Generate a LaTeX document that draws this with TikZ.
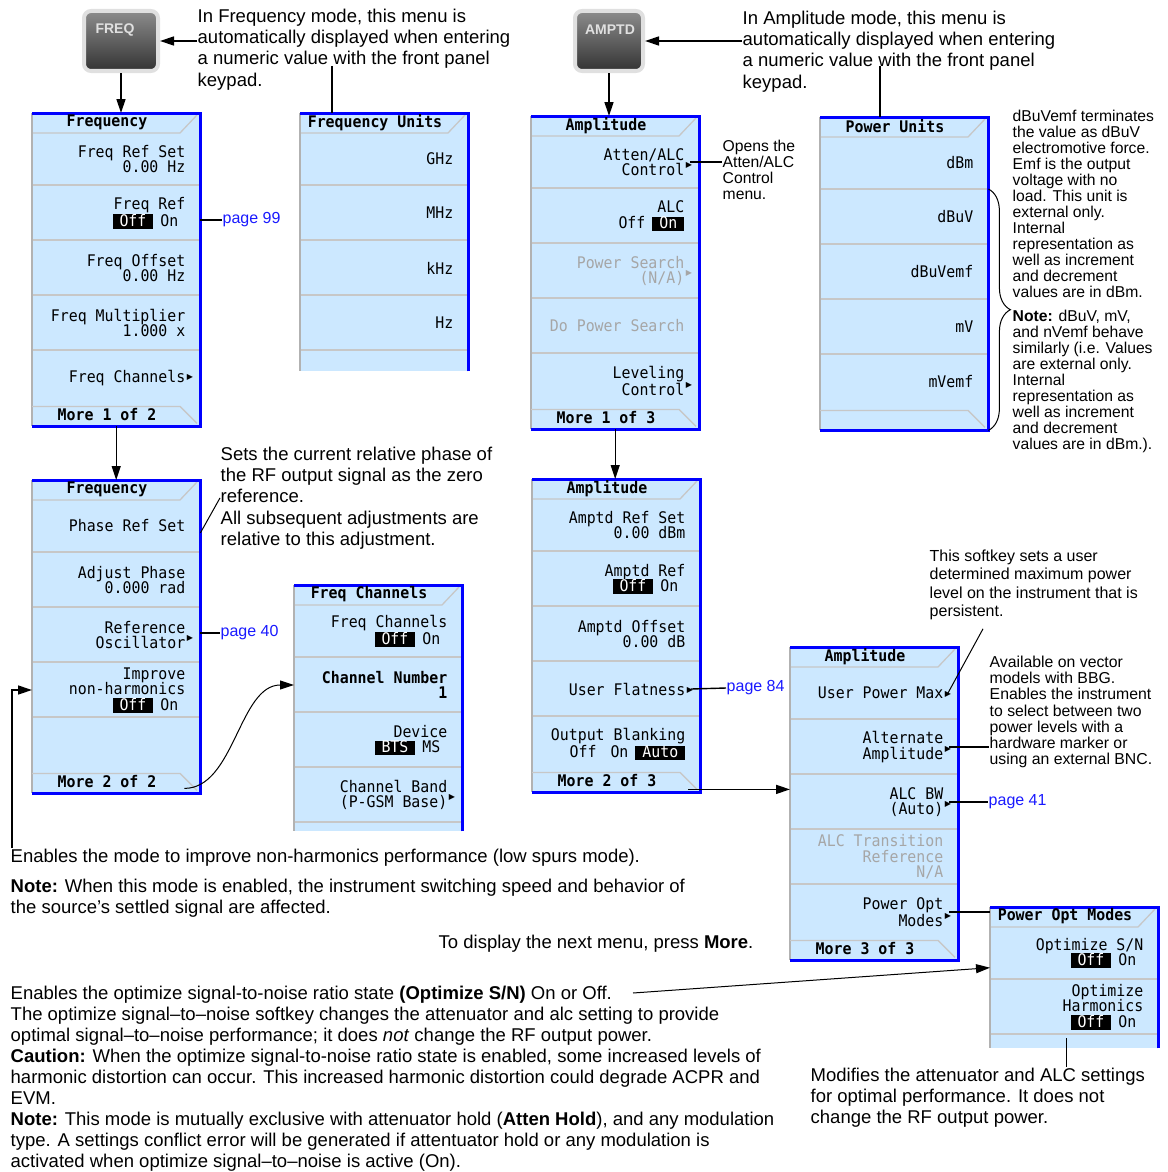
\documentclass[tikz,border=0pt]{standalone}
\usepackage{fontspec}
\setmainfont{Liberation Sans}
\newfontfamily\keyfont[FakeStretch=0.93]{DejaVu Sans Mono}
\newfontfamily\trifont{DejaVu Sans}
\usetikzlibrary{arrows.meta,decorations.pathreplacing}

\definecolor{panelblue}{RGB}{204,232,255}
\definecolor{edgeblue}{RGB}{0,0,255}
\definecolor{linkblue}{RGB}{25,25,255}

% softkey helpers
\newcommand{\selbox}[1]{{\setlength{\fboxsep}{0pt}\colorbox{black}{\rule[-2.5pt]{0pt}{12.5pt}\kern7pt\textcolor{white}{#1}\kern7pt}}}
\newcommand{\unsel}[1]{\kern7pt#1\kern7pt}
\newcommand{\submark}[1][2.5pt]{\rlap{\kern1.5pt\raisebox{#1}{\trifont\fontsize{8}{8}\selectfont ▶}}}

% one menu panel: name, left, top, height, last separator
\newcommand{\menupanel}[5]{%
  \node[panelbg, minimum height=#4, anchor=north west] (#1) at (#2,#3) {};
  \foreach \k in {0,...,#5} \draw[sepline] (#2,#3+72+55*\k) -- ++(167,0);
  \draw[sepline] (#2,#3+20) -- ++(148,0) -- ++(17,-18);
  \draw[greyedge] (#1.north west) -- (#1.south west);
  \draw[blueedge] (#1.south east) -- (#1.north east) -- (#1.north west);
}
\newcommand{\morebar}[1]{%
  \draw[sepline] ([yshift=20pt]#1.south west) -- ++(148,0) -- ++(17,17);
  \draw[blueedge] (#1.south west) -- (#1.south east) -- (#1.north east);
}

\begin{document}
\begin{tikzpicture}[x=1pt,y=-1pt,line width=1.4pt,
    panelbg/.style={fill=panelblue, minimum width=167, inner sep=0},
    sepline/.style={draw=black!22, line width=1.3pt},
    greyedge/.style={draw=black!30, line width=1.2pt},
    blueedge/.style={draw=edgeblue, line width=3pt},
    key/.style={font=\keyfont\fontsize{16}{15.5}\selectfont, align=right, anchor=east, inner sep=0, text=black},
    keyoff/.style={key, text=black!35},
    menutitle/.style={font=\keyfont\bfseries\fontsize{16}{15.5}\selectfont, inner sep=0},
    keybtn/.style={rounded corners=7pt, top color=black!45, bottom color=black!80, draw=black!12, line width=4pt},
    keylabel/.style={font=\bfseries\fontsize{14}{14}\selectfont, text=white!88!black, inner sep=0},
    note/.style={font=\fontsize{18.5}{21.3}\selectfont, align=left, anchor=north west, inner sep=0},
    smallnote/.style={font=\fontsize{15.7}{16}\selectfont, align=left, anchor=north west, inner sep=0},
    midnote/.style={font=\fontsize{16}{18.5}\selectfont, align=left, anchor=north west, inner sep=0},
    link/.style={font=\fontsize{16}{16}\selectfont, text=linkblue, anchor=west, inner sep=0},
    arr/.style={-{Triangle[length=14pt,width=9pt]}}]

\useasboundingbox (0,0) rectangle (1167,1172);

%====== front panel keys ======%
\node[keybtn, minimum width=74, minimum height=60] (freq) at (121,41) {};
\node[keylabel] (freqlbl) at (115,30) {FREQ};
\node[keybtn, minimum width=68, minimum height=60] (amptd) at (609,41) {};
\node[keylabel] (amptdlbl) at (610,30) {AMPTD};

\node[note] (freqtxt) at (197,8) {In Frequency mode, this menu is\\automatically displayed when entering\\a numeric value with the front panel\\keypad.};
\node[note] (amptxt) at (742,10) {In Amplitude mode, this menu is\\automatically displayed when entering\\a numeric value with the front panel\\keypad.};

%====== Frequency, page 1 ======%
\menupanel{fa}{32}{113}{312}{3}
\morebar{fa}
\node[menutitle] (fat) at (107,122.5) {Frequency};
\node[key] (fa1) at (186,159) {Freq Ref Set\\0.00 Hz};
\node[key] (fa2) at (186,213) {Freq Ref\\\selbox{Off}\unsel{On}};
\node[key] (fa3) at (186,268) {Freq Offset\\0.00 Hz};
\node[key] (fa4) at (186,323) {Freq Multiplier\\1.000 x};
\node[key] (fa5) at (186,378) {Freq Channels\submark};
\node[menutitle] (fam) at (107,415) {More 1 of 2};

%====== Frequency Units ======%
\menupanel{fu}{300}{113}{257}{3}
\node[menutitle] (fut) at (375,122.5) {Frequency Units};
\node[key] (fu1) at (454,159) {GHz};
\node[key] (fu2) at (454,213) {MHz};
\node[key] (fu3) at (454,268) {kHz};
\node[key] (fu4) at (454,323) {Hz};

%====== Amplitude, page 1 ======%
\menupanel{aa}{531}{116}{312}{3}
\morebar{aa}
\node[menutitle] (aat) at (606,125.5) {Amplitude};
\node[key] (aa1) at (685,162) {Atten/ALC\\Control\submark[8pt]};
\node[key] (aa2) at (685,216) {ALC\\\unsel{Off}\selbox{On}};
\node[keyoff] (aa3) at (685,271) {Power Search\\(N/A)\submark[8pt]};
\node[keyoff] (aa4) at (685,326) {Do Power Search};
\node[key] (aa5) at (685,381) {Leveling\\Control\submark[8pt]};
\node[menutitle] (aam) at (606,418) {More 1 of 3};

%====== Power Units ======%
\menupanel{pu}{820}{117}{312}{3}
\morebar{pu}
\node[menutitle] (put) at (895,126.5) {Power Units};
\node[key] (pu1) at (974,163) {dBm};
\node[key] (pu2) at (974,217) {dBuV};
\node[key] (pu3) at (974,272) {dBuVemf};
\node[key] (pu4) at (974,327) {mV};
\node[key] (pu5) at (974,382) {mVemf};

%====== Frequency, page 2 ======%
\menupanel{fb}{32}{480}{312}{3}
\morebar{fb}
\node[menutitle] (fbt) at (107,489.5) {Frequency};
\node[key] (fb1) at (186,526) {Phase Ref Set};
\node[key] (fb2) at (186,580) {Adjust Phase\\0.000 rad};
\node[key] (fb3) at (186,635) {Reference\\Oscillator\submark[8pt]};
\node[key] (fb4) at (186,690) {Improve\\non-harmonics\\\selbox{Off}\unsel{On}};
\node[menutitle] (fbm) at (107,782) {More 2 of 2};

%====== Freq Channels ======%
\menupanel{fc}{294}{585}{245}{3}
\node[menutitle] (fct) at (369,594.5) {Freq Channels};
\node[key] (fc1) at (448,631) {Freq Channels\\\selbox{Off}\unsel{On}};
\node[key, font=\keyfont\bfseries\fontsize{16}{15.5}\selectfont] (fc2) at (448,685) {Channel Number\\1};
\node[key] (fc3) at (448,740) {Device\\\selbox{BTS}\unsel{MS}};
\node[key] (fc4) at (448,795) {Channel Band\\(P-GSM Base)\submark[8pt]};

%====== Amplitude, page 2 ======%
\menupanel{ab}{532}{479}{312}{3}
\morebar{ab}
\node[menutitle] (abt) at (607,488.5) {Amplitude};
\node[key] (ab1) at (686,525) {Amptd Ref Set\\0.00 dBm};
\node[key] (ab2) at (686,579) {Amptd Ref\\\selbox{Off}\unsel{On}};
\node[key] (ab3) at (686,634) {Amptd Offset\\0.00 dB};
\node[key] (ab4) at (686,689) {User Flatness\submark};
\node[key] (ab5) at (686,744) {Output Blanking\\\unsel{Off}\unsel{On}\selbox{Auto}};
\node[menutitle] (abm) at (607,781) {More 2 of 3};

%====== Amplitude, page 3 ======%
\menupanel{ac}{790}{647}{312}{3}
\morebar{ac}
\node[menutitle] (act) at (865,656.5) {Amplitude};
\node[key] (ac1) at (944,693) {User Power Max\submark};
\node[key] (ac2) at (944,747) {Alternate\\Amplitude\submark[8pt]};
\node[key] (ac3) at (944,802) {ALC BW\\(Auto)\submark[8pt]};
\node[keyoff] (ac4) at (944,857) {ALC Transition\\Reference\\N/A};
\node[key] (ac5) at (944,912) {Power Opt\\Modes\submark[8pt]};
\node[menutitle] (acm) at (865,949) {More 3 of 3};

%====== Power Opt Modes ======%
\menupanel{po}{990}{907}{140}{1}
\node[menutitle] (pot) at (1065,916.5) {Power Opt Modes};
\node[key] (po1) at (1144,953) {Optimize S/N\\\selbox{Off}\unsel{On}};
\node[key] (po2) at (1144,1007) {Optimize\\Harmonics\\\selbox{Off}\unsel{On}};

%====== notes ======%
\node[smallnote] (opentxt) at (722,139) {Opens the\\Atten/ALC\\Control\\menu.};
\node[smallnote] (unitnote) at (1012,109) {dBuVemf terminates\\the value as dBuV\\electromotive force.\\Emf is the output\\voltage with no\\load. This unit is\\external only.\\Internal\\representation as\\well as increment\\and decrement\\values are in dBm.};
\node[smallnote] (unitnote2) at (1012,309) {\textbf{Note:} dBuV, mV,\\and nVemf behave\\similarly (i.e. Values\\are external only.\\Internal\\representation as\\well as increment\\and decrement\\values are in dBm.).};
\node[note] (phtxt) at (220,446) {Sets the current relative phase of\\the RF output signal as the zero\\reference.\\All subsequent adjustments are\\relative to this adjustment.};
\node[midnote] (upmtxt) at (929,549) {This softkey sets a user\\determined maximum power\\level on the instrument that is\\persistent.};
\node[smallnote, font=\fontsize{15.8}{16.3}\selectfont] (alttxt) at (989,655) {Available on vector\\models with BBG.\\Enables the instrument\\to select between two\\power levels with a\\hardware marker or\\using an external BNC.};
\node[link] (p99) at (222,220) {page 99};
\node[link] (p40) at (220,633) {page 40};
\node[link] (p84) at (726,688) {page 84};
\node[link] (p41) at (988,802) {page 41};
\node[note] (nhtxt) at (10,848) {Enables the mode to improve non-harmonics performance (low spurs mode).};
\node[note] (nhnote) at (10,878) {\textbf{Note:} When this mode is enabled, the instrument switching speed and behavior of\\the source’s settled signal are affected.};
\node[note, anchor=west] (moretxt) at (438,944) {To display the next menu, press \textbf{More}.};
\node[note, font=\fontsize{18.5}{21.1}\selectfont] (opttxt) at (10,985) {Enables the optimize signal-to-noise ratio state \textbf{(Optimize S/N)} On or Off.\\The optimize signal–to–noise softkey changes the attenuator and alc setting to provide\\optimal signal–to–noise performance; it does \textit{not} change the RF output power.\\\textbf{Caution:} When the optimize signal-to-noise ratio state is enabled, some increased levels of\\harmonic distortion can occur. This increased harmonic distortion could degrade ACPR and\\EVM.\\\textbf{Note:} This mode is mutually exclusive with attenuator hold (\textbf{Atten Hold}), and any modulation\\type. A settings conflict error will be generated if attentuator hold or any modulation is\\activated when optimize signal–to–noise is active (On).};
\node[note] (modtxt) at (810,1067) {Modifies the attenuator and ALC settings\\for optimal performance. It does not\\change the RF output power.};

%====== connectors ======%
\draw[arr] (freqtxt.west |- freq.east) -- (freq.east);
\draw[arr] (freq.south) -- (freq.south |- fa.north);
\coordinate (futop) at (332,66);
\draw (futop) -- (futop |- fu.north);
\draw[arr] (amptxt.west |- amptd.east) -- (amptd.east);
\draw[arr] (amptd.south) -- (amptd.south |- aa.north);
\coordinate (putop) at (880,66);
\draw (putop) -- (putop |- pu.north);
\draw[arr] (fa.south) -- (fa.south |- fb.north);
\draw[arr] (aa.south) -- (aa.south |- ab.north);
\draw (fa.east |- p99.west) -- (p99.west);
\draw ([xshift=5pt]aa1.east) -- (opentxt.west |- aa1.east);
\draw[line width=1pt] (fb.east |- fb1.south) -- (phtxt.west);
\draw (fb.east |- p40.west) -- (p40.west);
\draw[arr] ([xshift=2pt]nhtxt.north west) |- (fb.west |- fb4.west);
\draw[arr, line width=1pt] ([xshift=-16pt,yshift=5pt]fb.south east) .. controls +(50,0) and +(-55,0) .. (fc.west |- fc2.west);
\draw ([xshift=5pt]ab4.east) -- (p84.west);
\coordinate (abend) at ([xshift=-12pt,yshift=3pt]ab.south east);
\draw[arr] (abend) -- (abend -| ac.west);
\draw[line width=1pt] ([xshift=4pt]ac1.east) -- ([xshift=54pt,yshift=-8pt]upmtxt.south west);
\draw ([xshift=5pt]ac2.east) -- (alttxt.west |- ac2.east);
\draw ([xshift=5pt]ac3.east) -- (p41.west);
\draw ([xshift=5pt]ac5.east) -- (po.west |- ac5.east);
\coordinate (optsn) at (633,993);
\draw[arr, line width=1pt] (optsn) -- ([yshift=10pt]po.west);
\coordinate (harm) at ([xshift=-8pt,yshift=10pt]po.south);
\draw (harm) -- (harm |- modtxt.north);
\draw[decorate, decoration={brace, amplitude=22pt}, line width=1pt] ([yshift=-72pt]pu.north east) -- (pu.south east);

\end{tikzpicture}
\end{document}
